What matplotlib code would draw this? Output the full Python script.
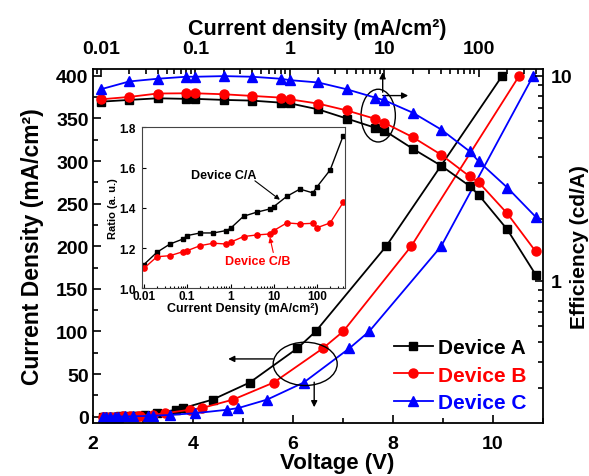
import numpy as np
import matplotlib
matplotlib.use("Agg")
import matplotlib.pyplot as plt
from matplotlib.patches import Ellipse
from matplotlib.ticker import LogLocator, FuncFormatter, MultipleLocator, NullFormatter

plt.rcParams['font.family'] = ['Liberation Sans', 'DejaVu Sans']
plt.rcParams['font.weight'] = 'bold'
plt.rcParams['axes.labelweight'] = 'bold'

# current density steps (mA/cm2), shared by J-V, efficiency and ratio data
j_steps = [0.01, 0.02, 0.04, 0.08, 0.1, 0.2, 0.4, 0.8, 1, 2, 4, 8, 10, 20, 40, 80, 100, 200, 400]

# voltage at each current density step
volt_a = [2.2, 2.25, 2.3, 2.4, 2.45, 2.55, 2.65, 2.8, 2.85, 3.05, 3.28, 3.66, 3.81, 4.40, 5.14, 6.09, 6.46, 7.87, 10.19]
volt_b = [2.2, 2.25, 2.35, 2.45, 2.5, 2.6, 2.75, 2.9, 2.95, 3.2, 3.45, 3.94, 4.18, 4.81, 5.62, 6.60, 7.01, 8.37, 10.53]
volt_c = [2.2, 2.27, 2.35, 2.45, 2.5, 2.65, 2.8, 3.1, 3.2, 3.55, 4.05, 4.68, 4.91, 5.49, 6.22, 7.13, 7.53, 8.97, 10.81]

# current efficiency (cd/A)
eff_a = [7.48, 7.63, 7.77, 7.72, 7.72, 7.63, 7.57, 7.40, 7.34, 6.86, 6.19, 5.58, 5.41, 4.41, 3.64, 2.90, 2.62, 1.78, 1.07]
eff_b = [7.68, 7.89, 8.20, 8.22, 8.22, 8.13, 7.98, 7.83, 7.68, 7.32, 6.78, 6.17, 5.90, 5.02, 4.12, 3.23, 3.02, 2.13, 1.39]
eff_c = [8.60, 9.39, 9.68, 9.90, 9.90, 9.97, 9.90, 9.68, 9.53, 9.28, 8.60, 7.83, 7.60, 6.61, 5.47, 4.28, 3.82, 2.85, 2.05]

# efficiency ratios for the inset
ratio_ca = [1.118, 1.179, 1.220, 1.245, 1.262, 1.275, 1.275, 1.287, 1.298, 1.358, 1.378, 1.394, 1.406,
            1.457, 1.493, 1.474, 1.505, 1.588, 1.758]
ratio_cb = [1.099, 1.157, 1.162, 1.182, 1.187, 1.212, 1.224, 1.220, 1.229, 1.257, 1.265, 1.270, 1.287,
            1.325, 1.320, 1.323, 1.301, 1.325, 1.427]

devices = ['Device A', 'Device B', 'Device C']
colors = ['black', 'red', 'blue']
markers = ['s', 'o', '^']
msizes = [5.5, 6.5, 7]


def log_fmt(v, pos):
    return f'{v:g}'


fig = plt.figure(figsize=(5.89, 4.77), dpi=100)
rect = [92.7 / 589, 1 - 424 / 477, 450 / 589, 354 / 477]
ax = fig.add_axes(rect)
ax2 = fig.add_axes(rect, frameon=False)
ax2.patch.set_alpha(0)
ax.set_zorder(1)
ax2.set_zorder(2)

# J-V curves
handles = []
for v, c, m, ms, name in zip([volt_a, volt_b, volt_c], colors, markers, msizes, devices):
    h, = ax.plot(v, j_steps, color=c, marker=m, ms=ms, lw=1.3, label=name)
    handles.append(h)

ax.set_xlim(2, 11)
ax.set_ylim(-7.5, 408)
ax.xaxis.set_major_locator(MultipleLocator(2))
ax.xaxis.set_minor_locator(MultipleLocator(1))
ax.yaxis.set_major_locator(MultipleLocator(50))
ax.yaxis.set_minor_locator(MultipleLocator(25))
ax.tick_params(which='both', direction='in', top=False, right=False, width=1.2, labelsize=14)
ax.tick_params(which='major', length=6)
ax.tick_params(which='minor', length=3.5)
ax.tick_params(axis='x', pad=9)
ax.tick_params(axis='y', pad=3)
for s in ax.spines.values():
    s.set_linewidth(1.3)
ax.set_xlabel('Voltage (V)', fontsize=16)
ax.xaxis.set_label_coords(0.543, -0.083)
ax.set_ylabel('Current Density (mA/cm²)', fontsize=16.5, labelpad=9)

# efficiency curves on top/right log axes
for e, c, m, ms in zip([eff_a, eff_b, eff_c], colors, markers, msizes):
    ax2.plot(j_steps, e, color=c, marker=m, ms=ms, lw=1.3)

ax2.set_xscale('log')
ax2.set_yscale('log')
ax2.set_xlim(0.0082, 475)
ax2.set_ylim(0.202, 10.8)
ax2.xaxis.tick_top()
ax2.xaxis.set_label_position('top')
ax2.yaxis.tick_right()
ax2.yaxis.set_label_position('right')
ax2.xaxis.set_major_locator(LogLocator(base=10, numticks=10))
ax2.xaxis.set_minor_locator(LogLocator(base=10, subs=np.arange(2, 10), numticks=20))
ax2.yaxis.set_major_locator(LogLocator(base=10, numticks=10))
ax2.yaxis.set_minor_locator(LogLocator(base=10, subs=np.arange(2, 10), numticks=20))
ax2.xaxis.set_major_formatter(FuncFormatter(log_fmt))
ax2.yaxis.set_major_formatter(FuncFormatter(log_fmt))
ax2.xaxis.set_minor_formatter(NullFormatter())
ax2.yaxis.set_minor_formatter(NullFormatter())
ax2.tick_params(which='both', direction='in', width=1.2, labelsize=14)
ax2.tick_params(which='major', length=6)
ax2.tick_params(which='minor', length=3.5)
ax2.tick_params(axis='x', pad=9)
ax2.tick_params(axis='y', pad=6)
ax2.set_xlabel('Current density (mA/cm²)', fontsize=15.5, labelpad=4)
ax2.set_ylabel('Efficiency (cd/A)', fontsize=15, labelpad=-2)

# ellipses and arrows
arrow = dict(arrowstyle='-|>', color='black', lw=1, mutation_scale=9, shrinkA=0, shrinkB=0)
ax.add_patch(Ellipse((6.25, 61.9), 1.28, 50.8, fill=False, ec='black', lw=1, zorder=5))
ax.annotate('', xy=(4.71, 67.7), xytext=(5.61, 67.7), arrowprops=arrow)
ax.annotate('', xy=(6.43, 11.0), xytext=(6.43, 40.4), arrowprops=arrow)
ax.add_patch(Ellipse((7.71, 353.3), 0.686, 61.9, fill=False, ec='black', lw=1, zorder=5))
ax.annotate('', xy=(7.80, 404.2), xytext=(7.80, 380.8), arrowprops=arrow)
ax.annotate('', xy=(8.31, 376.8), xytext=(7.80, 376.8), arrowprops=arrow)

leg = ax.legend(handles=handles, loc='lower right', bbox_to_anchor=(0.965, 0.03), frameon=False,
                fontsize=15, handlelength=1.9, handletextpad=0.25, labelspacing=0.42,
                borderpad=0, borderaxespad=0, labelcolor='linecolor')

# inset
ins = fig.add_axes([141.5 / 589, 1 - 289.3 / 477, 203.5 / 589, 161 / 477])
ins.set_zorder(3)
ins.plot(j_steps, ratio_ca, color='black', marker='s', ms=3.5, lw=1)
ins.plot(j_steps, ratio_cb, color='red', marker='o', ms=3.8, lw=1)
ins.set_xscale('log')
ins.set_xlim(0.0088, 440)
ins.set_ylim(1.0, 1.8)
ins.yaxis.set_major_locator(MultipleLocator(0.2))
ins.yaxis.set_major_formatter(FuncFormatter(lambda v, p: f'{v:.1f}'))
ins.xaxis.set_major_locator(LogLocator(base=10, numticks=10))
ins.xaxis.set_minor_locator(LogLocator(base=10, subs=np.arange(2, 10), numticks=20))
ins.xaxis.set_major_formatter(FuncFormatter(log_fmt))
ins.xaxis.set_minor_formatter(NullFormatter())
ins.tick_params(which='both', direction='in', labelsize=8.5, pad=1.5, width=0.8)
ins.tick_params(axis='y', pad=4)
ins.tick_params(which='major', length=3)
ins.tick_params(which='minor', length=1.5)
for s in ins.spines.values():
    s.set_linewidth(0.8)
    s.set_color('#444444')
ins.set_xlabel('Current Density (mA/cm²)', fontsize=9, labelpad=0)
ins.set_ylabel('Ratio (a. u.)', fontsize=8, labelpad=1)
ins.text(0.69, 1.564, 'Device C/A', ha='center', va='center', fontsize=9, color='black')
ins.annotate('', xy=(13.8, 1.44), xytext=(3.66, 1.534),
             arrowprops=dict(arrowstyle='-|>', color='black', lw=0.8, mutation_scale=7, shrinkA=0, shrinkB=0))
ins.text(4.3, 1.136, 'Device C/B', ha='center', va='center', fontsize=9, color='red')
ins.annotate('', xy=(8.1, 1.253), xytext=(9.7, 1.178),
             arrowprops=dict(arrowstyle='-|>', color='red', lw=0.8, mutation_scale=7, shrinkA=0, shrinkB=0))

fig.savefig('out.png', dpi=100)
